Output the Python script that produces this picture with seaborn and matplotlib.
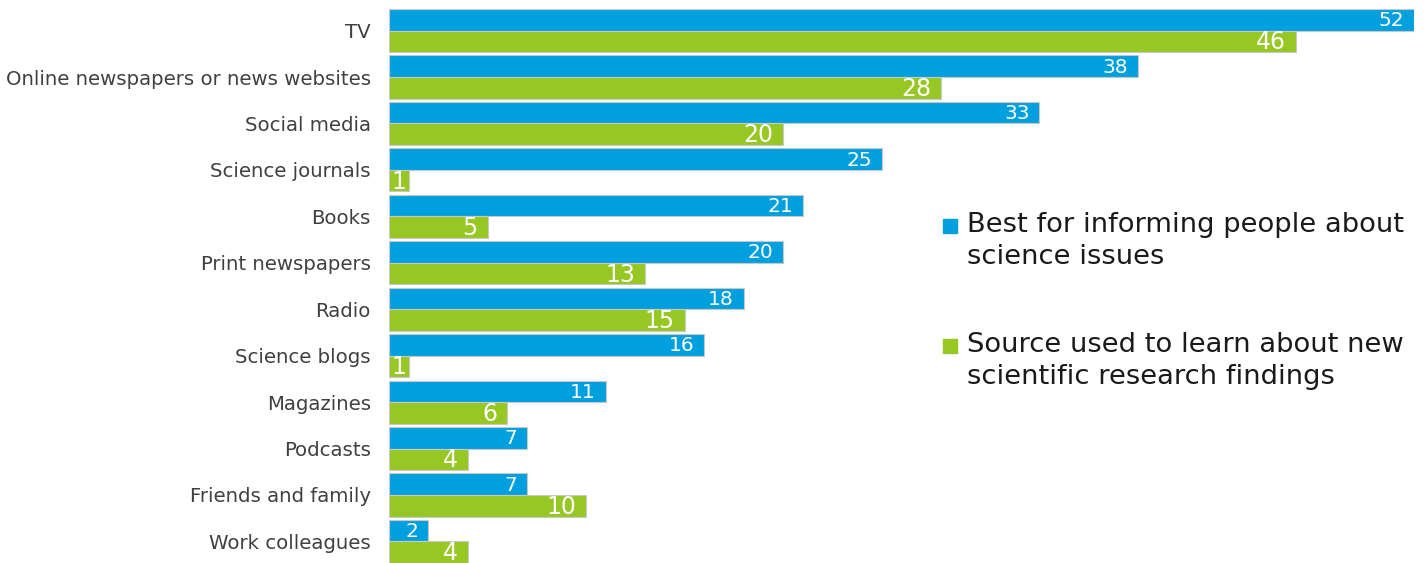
import numpy as np
import pandas as pd
import seaborn as sns
import matplotlib.pyplot as plt

sns.set_style("white")
plt.rcParams['font.family'] = ['DejaVu Sans']

categories = ["TV", "Online newspapers or news websites", "Social media", "Science journals",
              "Books", "Print newspapers", "Radio", "Science blogs", "Magazines",
              "Podcasts", "Friends and family", "Work colleagues"]
best_informing = [52, 38, 33, 25, 21, 20, 18, 16, 11, 7, 7, 2]
source_used = [46, 28, 20, 1, 5, 13, 15, 1, 6, 4, 10, 4]
series_names = ["Best for informing people about\nscience issues",
                "Source used to learn about new\nscientific research findings"]
colors = ["#00a0df", "#97c723"]

df = pd.DataFrame({
    "source": categories * 2,
    "value": best_informing + source_used,
    "series": [series_names[0]] * len(categories) + [series_names[1]] * len(categories),
})

W, H = 1426, 563
fig = plt.figure(figsize=(W / 100, H / 100), dpi=100)
ax = fig.add_axes([389 / W, 0.0, (1414 - 389) / W, 1 - 9 / H])

sns.barplot(data=df, y="source", x="value", hue="series", orient="h", palette=colors,
            saturation=1, width=0.93, dodge=True, edgecolor="#c8c8c8", linewidth=0.8,
            ax=ax, legend=False)

ax.set_xlim(0, 52)
ax.set_ylim(len(categories) - 0.5 - 0.035, -0.5 + 0.035)
ax.set_xlabel("")
ax.set_ylabel("")
ax.set_xticks([])
ax.tick_params(axis="y", length=0, pad=13, labelsize=14.2, labelcolor="#404040")
for s in ax.spines.values():
    s.set_visible(False)

# value labels inside bar ends (centred when the bar is too short)
label_sizes = [14.5, 17]
for cont, fs in zip(ax.containers, label_sizes):
    for bar in cont:
        w = bar.get_width()
        y = bar.get_y() + bar.get_height() / 2
        if w < 2:
            ax.text(w / 2, y + 0.02, f"{int(round(w))}", ha="center", va="center",
                    color="white", fontsize=fs)
        else:
            ax.text(w - 0.5, y + 0.02, f"{int(round(w))}", ha="right", va="center",
                    color="white", fontsize=fs)

# legend drawn by hand so the marker sits on the first text line
legend_tops = [212, 332]
for c, name, top in zip(colors, series_names, legend_tops):
    fig.patches.append(plt.Rectangle((943 / W, 1 - (top + 21) / H), 14 / W, 14 / H,
                                     transform=fig.transFigure, color=c))
    fig.text(967 / W, 1 - top / H, name, ha="left", va="top", fontsize=19.7,
             color="#1a1a1a", linespacing=1.3)

fig.savefig("out.png", dpi=100)
